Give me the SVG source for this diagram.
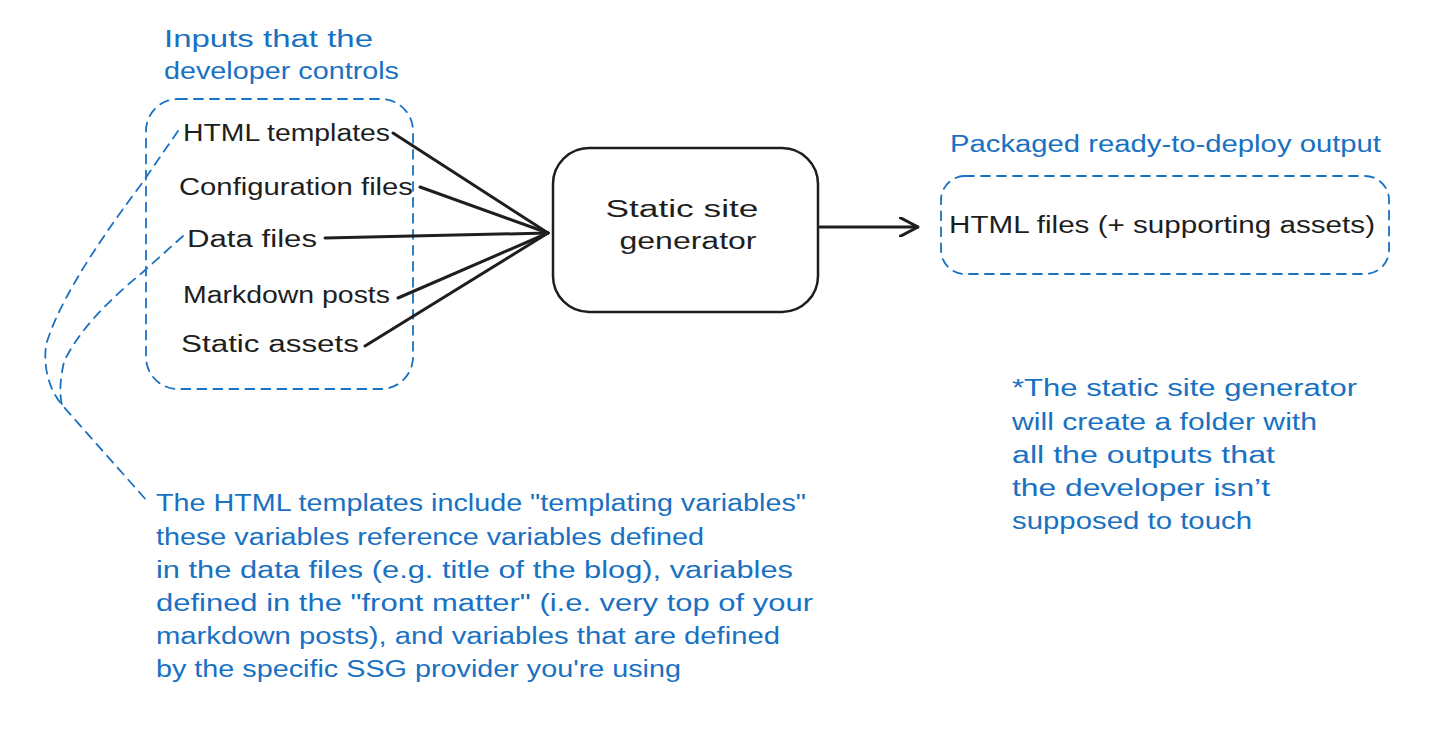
<svg xmlns="http://www.w3.org/2000/svg" width="1456" height="744" viewBox="0 0 1456 744">
<style>
  .bk { font-family: "Liberation Sans", "DejaVu Sans", sans-serif; font-size: 23px; fill: #1e1e1e; }
  .bl { font-family: "Liberation Sans", "DejaVu Sans", sans-serif; font-size: 23px; fill: #1971c2; }
  .dash { fill: none; stroke: #1971c2; stroke-width: 1.8; stroke-dasharray: 9 7; stroke-linecap: round; }
  .edge { fill: none; stroke: #1e1e1e; stroke-width: 3; stroke-linecap: round; }
</style>
<defs>
  <marker id="arrow" viewBox="0 0 20 20" refX="19" refY="10" markerWidth="20" markerHeight="20" markerUnits="userSpaceOnUse" orient="auto">
    <path d="M0,0 L19,10 L0,20" fill="none" stroke="#1e1e1e" stroke-width="3" stroke-linecap="round" stroke-linejoin="round"/>
  </marker>
</defs>
<rect width="1456" height="744" fill="#ffffff"/>

<g id="inputs-group">
  <text class="bl" x="164" y="47" textLength="209" lengthAdjust="spacingAndGlyphs">Inputs that the</text>
  <text class="bl" x="164" y="79" textLength="235" lengthAdjust="spacingAndGlyphs">developer controls</text>
  <rect class="dash" x="146" y="99" width="267" height="290" rx="32"/>
</g>

<g id="node-html-templates"><text class="bk" x="183" y="141" textLength="207" lengthAdjust="spacingAndGlyphs">HTML templates</text></g>
<g id="node-configuration-files"><text class="bk" x="179" y="195" textLength="234" lengthAdjust="spacingAndGlyphs">Configuration files</text></g>
<g id="node-data-files"><text class="bk" x="187" y="247" textLength="130" lengthAdjust="spacingAndGlyphs">Data files</text></g>
<g id="node-markdown-posts"><text class="bk" x="183" y="303" textLength="207" lengthAdjust="spacingAndGlyphs">Markdown posts</text></g>
<g id="node-static-assets"><text class="bk" x="181" y="352" textLength="178" lengthAdjust="spacingAndGlyphs">Static assets</text></g>

<g id="node-ssg">
  <rect x="553" y="148" width="265" height="164" rx="36" fill="#ffffff" stroke="#1e1e1e" stroke-width="2.5"/>
  <text class="bk" x="682" y="217" text-anchor="middle" font-size="25" textLength="153" lengthAdjust="spacingAndGlyphs">Static site</text>
  <text class="bk" x="688" y="249" text-anchor="middle" font-size="25" textLength="137" lengthAdjust="spacingAndGlyphs">generator</text>
</g>

<g id="node-output">
  <text class="bl" x="950" y="152" textLength="431" lengthAdjust="spacingAndGlyphs">Packaged ready-to-deploy output</text>
  <rect class="dash" x="941" y="176" width="448" height="98" rx="24"/>
  <text class="bk" x="949" y="233" textLength="426" lengthAdjust="spacingAndGlyphs">HTML files (+ supporting assets)</text>
</g>

<g id="note-output">
  <text class="bl" x="1012" y="396" textLength="345" lengthAdjust="spacingAndGlyphs">*The static site generator</text>
  <text class="bl" x="1012" y="430" textLength="305" lengthAdjust="spacingAndGlyphs">will create a folder with</text>
  <text class="bl" x="1012" y="463" textLength="263" lengthAdjust="spacingAndGlyphs">all the outputs that</text>
  <text class="bl" x="1012" y="496" textLength="258" lengthAdjust="spacingAndGlyphs">the developer isn’t</text>
  <text class="bl" x="1012" y="529" textLength="240" lengthAdjust="spacingAndGlyphs">supposed to touch</text>
</g>

<g id="note-templates">
  <text class="bl" x="156" y="511" textLength="650" lengthAdjust="spacingAndGlyphs">The HTML templates include "templating variables"</text>
  <text class="bl" x="156" y="545" textLength="548" lengthAdjust="spacingAndGlyphs">these variables reference variables defined</text>
  <text class="bl" x="156" y="578" textLength="637" lengthAdjust="spacingAndGlyphs">in the data files (e.g. title of the blog), variables</text>
  <text class="bl" x="156" y="611" textLength="657" lengthAdjust="spacingAndGlyphs">defined in the "front matter" (i.e. very top of your</text>
  <text class="bl" x="156" y="644" textLength="624" lengthAdjust="spacingAndGlyphs">markdown posts), and variables that are defined</text>
  <text class="bl" x="156" y="677" textLength="525" lengthAdjust="spacingAndGlyphs">by the specific SSG provider you're using</text>
</g>

<g id="connectors">
  <path class="edge" d="M393,133 L548,233"/>
  <path class="edge" d="M420,187 L548,233"/>
  <path class="edge" d="M325,238 L548,233" stroke-width="3.5"/>
  <path class="edge" d="M398,298 L548,233"/>
  <path class="edge" d="M365,346 L548,233"/>
  <path class="edge" d="M820,227 L918,227" stroke-width="3.5" marker-end="url(#arrow)"/>
  <path class="dash" d="M178,131 L140,186 Q62,290 46,345 Q42,380 62,405 L148,502"/>
  <path class="dash" d="M183,236 L143,272 Q82,322 64,362 Q58,388 62,405"/>
</g>
</svg>
